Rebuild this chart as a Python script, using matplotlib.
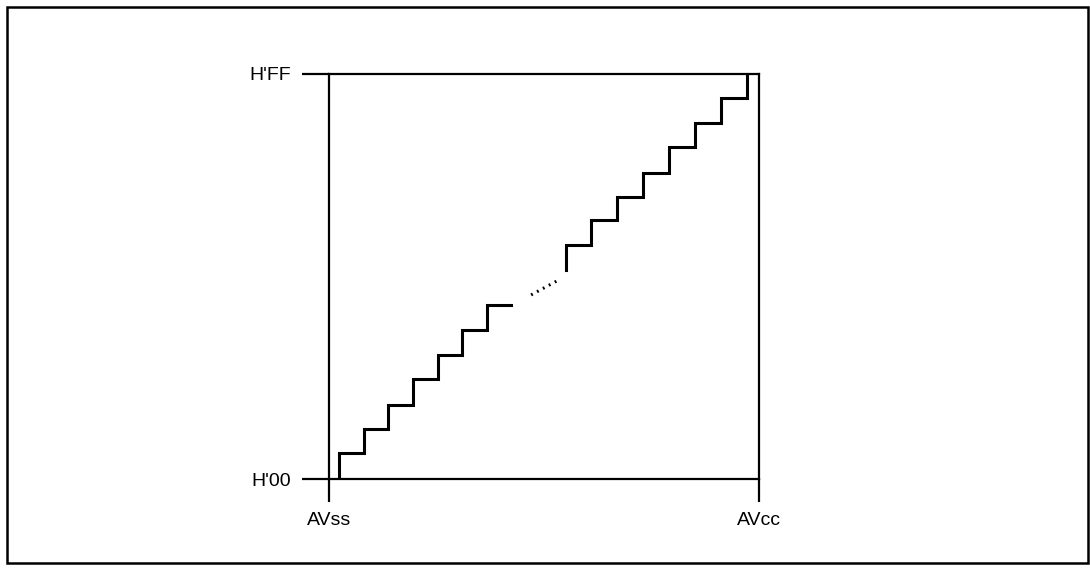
import matplotlib
matplotlib.use("Agg")
import matplotlib.pyplot as plt
from matplotlib.patches import Rectangle

plt.rcParams['font.family'] = ['Liberation Sans', 'DejaVu Sans']

#
# data (x = % of AVcc, y = code 0..255)
#
x_ticks = [0, 100]
x_labels = ["AVss", "AVcc"]
y_ticks = [0, 255]
y_labels = ["H'00", "H'FF"]

# lower staircase: riser positions, level after each riser, end of last tread
lower_x = [2.3, 8.1, 13.7, 19.5, 25.3, 30.9, 36.7]
lower_y = [16.4, 31.5, 46.6, 63.0, 78.0, 93.8, 109.6]
lower_end = 42.3

# upper staircase
upper_start_y = 131.6
upper_x = [55.1, 60.9, 67.0, 73.0, 79.1, 85.1, 91.2, 97.2]
upper_y = [147.3, 163.0, 177.6, 192.7, 209.0, 224.0, 240.0, 255.0]
upper_end = 97.2

# dotted gap
gap_x = [47.0, 53.0]
gap_y = [115.9, 124.7]


def stair(xs, ys, start_y, end_x):
  px, py = [], []
  prev = start_y
  for i, x in enumerate(xs):
    px += [x, x]
    py += [prev, ys[i]]
    prev = ys[i]
  px.append(end_x)
  py.append(prev)
  return px, py


fig = plt.figure(figsize=(10.9, 5.7), dpi=100)
ax = fig.add_axes([329 / 1090, 91 / 570, 430 / 1090, 405 / 570])

lx, ly = stair(lower_x, lower_y, 0, lower_end)
ax.plot(lx, ly, color="black", lw=2.2, solid_joinstyle="miter")
ux, uy = stair(upper_x, upper_y, upper_start_y, upper_end)
ax.plot(ux, uy, color="black", lw=2.2, solid_joinstyle="miter", clip_on=False)
ax.plot(gap_x, gap_y, color="black", lw=2.2, linestyle=(0, (0.6, 1.6)))

ax.set_xlim(0, 100)
ax.set_ylim(0, 255)
for s in ax.spines.values():
  s.set_linewidth(1.6)
ax.set_xticks(x_ticks)
ax.set_xticklabels(x_labels)
ax.set_yticks(y_ticks)
ax.set_yticklabels(y_labels)
ax.tick_params(axis="y", direction="out", length=19.5, width=1.6, pad=8, labelsize=14)
ax.tick_params(axis="x", direction="out", length=16.5, width=1.6, pad=7, labelsize=14)

# border round the whole figure
fig.patches.append(Rectangle((7 / 1090, 7 / 570), 1081 / 1090, 556 / 570,
                             transform=fig.transFigure, fill=False,
                             edgecolor="black", lw=1.8))

fig.savefig("out.png", dpi=100)
